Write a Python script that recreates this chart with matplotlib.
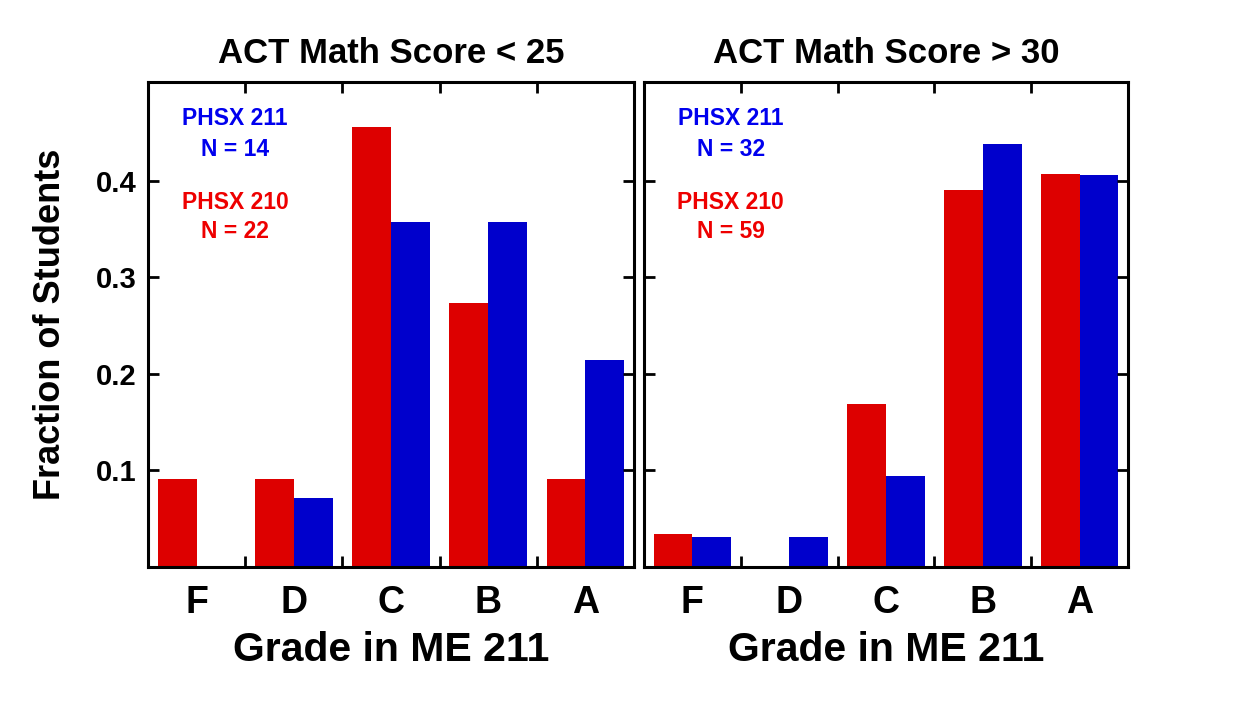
import matplotlib
matplotlib.use("Agg")
import matplotlib.pyplot as plt
import numpy as np

plt.rcParams['font.family'] = ['Liberation Sans', 'DejaVu Sans']
plt.rcParams['font.weight'] = 'bold'

grades = ["F", "D", "C", "B", "A"]

# ACT Math < 25
low_210 = [0.091, 0.091, 0.455, 0.273, 0.091]
low_211 = [0.0, 0.071, 0.357, 0.357, 0.214]
# ACT Math > 30
high_210 = [0.034, 0.0, 0.169, 0.390, 0.407]
high_211 = [0.031, 0.031, 0.094, 0.4375, 0.406]

titles = ["ACT Math Score < 25", "ACT Math Score > 30"]
notes_211 = ["PHSX 211\nN = 14", "PHSX 211\nN = 32"]
notes_210 = ["PHSX 210\nN = 22", "PHSX 210\nN = 59"]

red = "#DD0000"
blue = "#0000CC"

fig = plt.figure(figsize=(12.5, 7.07), dpi=100)
ax1 = fig.add_axes([0.1184, 0.198, 0.3888, 0.686])
ax2 = fig.add_axes([0.5152, 0.198, 0.3872, 0.686])

x = np.arange(len(grades))
w = 0.4

for i, (ax, r, b) in enumerate([(ax1, low_210, low_211), (ax2, high_210, high_211)]):
    ax.bar(x - w / 2, r, width=w, color=red)
    ax.bar(x + w / 2, b, width=w, color=blue)
    ax.set_xlim(-0.5, 4.5)
    ax.set_ylim(0, 0.502)
    ax.set_title(titles[i], fontsize=25, fontweight='bold', pad=14)
    ax.set_xticks(x)
    ax.set_xticklabels(grades, fontsize=27, fontweight='bold')
    ax.set_xticks(x[:-1] + 0.5, minor=True)
    ax.tick_params(axis='x', which='major', length=0, pad=13)
    ax.tick_params(axis='x', which='minor', direction='in', length=8,
                   width=2, top=True, bottom=True)
    ax.set_yticks([0.1, 0.2, 0.3, 0.4])
    ax.tick_params(axis='y', direction='in', length=8, width=2,
                   left=True, right=True, labelsize=21, pad=8)
    for lab in ax.get_yticklabels():
        lab.set_fontweight('bold')
    for sp in ax.spines.values():
        sp.set_linewidth(2.2)
    ax.set_xlabel("Grade in ME 211", fontsize=29.5, fontweight='bold', labelpad=7)
    ax.text(0.179, 0.948, notes_211[i], transform=ax.transAxes, color="#0000EE",
            fontsize=16.5, fontweight='bold', ha='center', va='top', linespacing=1.45)
    ax.text(0.179, 0.775, notes_210[i], transform=ax.transAxes, color="#EE0000",
            fontsize=16.5, fontweight='bold', ha='center', va='top', linespacing=1.35)

ax1.set_ylabel("Fraction of Students", fontsize=26, fontweight='bold', labelpad=20)
ax2.tick_params(axis='y', labelleft=False)

fig.savefig("out.png", dpi=100)
